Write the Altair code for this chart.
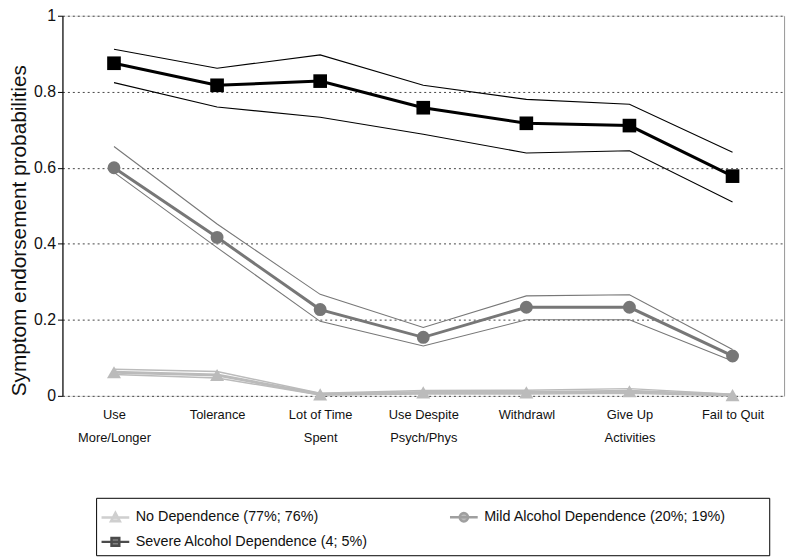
import math
import altair as alt
import pandas as pd

categories = ["Use|More/Longer", "Tolerance", "Lot of Time|Spent", "Use Despite|Psych/Phys",
              "Withdrawl", "Give Up|Activities", "Fail to Quit"]

series_names = ["No Dependence (77%; 76%)", "Mild Alcohol Dependence (20%; 19%)",
                "Severe Alcohol Dependence (4; 5%)"]

severe = [0.875, 0.817, 0.828, 0.758, 0.717, 0.711, 0.578]
severe_lo = [0.824, 0.760, 0.733, 0.688, 0.639, 0.645, 0.510]
severe_hi = [0.912, 0.862, 0.897, 0.817, 0.780, 0.767, 0.641]

mild = [0.600, 0.417, 0.227, 0.154, 0.233, 0.233, 0.105]
mild_lo = [0.588, 0.390, 0.196, 0.131, 0.200, 0.200, 0.092]
mild_hi = [0.656, 0.452, 0.267, 0.180, 0.263, 0.266, 0.122]

nodep = [0.062, 0.055, 0.004, 0.009, 0.009, 0.012, 0.002]
nodep_lo = [0.056, 0.047, 0.002, 0.005, 0.005, 0.007, 0.000]
nodep_hi = [0.070, 0.064, 0.007, 0.014, 0.015, 0.019, 0.004]

colors = ["#bbbbbb", "#777777", "#000000"]

poly = "".join(("M" if k == 0 else "L") + f"{0.3*math.cos(k*math.pi/8):.3f},{0.3*math.sin(k*math.pi/8):.3f}"
               for k in range(16)) + "Z"
legend_paths = [
    "M-1,0L1,0M-0.32,0.28L0,-0.32L0.32,0.28Z",
    "M-1,0L1,0" + poly,
    "M-1,0L1,0M-0.28,-0.28L0.28,-0.28L0.28,0.28L-0.28,0.28Z",
]

rows = []
for name, est, lo, hi in zip(series_names,
                             [nodep, mild, severe],
                             [nodep_lo, mild_lo, severe_lo],
                             [nodep_hi, mild_hi, severe_hi]):
    for c, e, l, h in zip(categories, est, lo, hi):
        rows.append({"category": c, "series": name, "est": e, "lo": l, "hi": h})
df = pd.DataFrame(rows)

FONT = "Liberation Sans"

x_enc = alt.X("category:N", sort=categories,
              scale=alt.Scale(type="point", padding=0.5),
              axis=alt.Axis(title=None, domain=False, ticks=False, grid=False,
                            labelAngle=0, labelPadding=13, labelFontSize=13,
                            labelFont=FONT, labelColor="#111",
                            labelLineHeight=23, labelBaseline="top",
                            labelExpr="split(datum.label, '|')"))

y_scale = alt.Scale(domain=[0, 1], nice=False, zero=True)
y_axis = alt.Axis(title="Symptom endorsement probabilities", values=[0, 0.2, 0.4, 0.6, 0.8, 1],
                  format="~g", labelFontSize=16, labelFont=FONT, labelColor="#111",
                  titleFontSize=21, titleFont=FONT, titleFontWeight="normal",
                  titleColor="#111", titleAnchor="start", titlePadding=4,
                  domainColor="#000", domainWidth=1.2, tickColor="#000", tickSize=5,
                  grid=True, gridColor="#444", gridDash=[2, 3], gridWidth=1)

base = alt.Chart(df)

shapes = ["triangle-up", "circle", "square"]
sizes = [200, 170, 190]
ci_widths = [1.5, 1.1, 1.1]
layers = []
for name, shp, sz, col, ciw in zip(series_names, shapes, sizes, colors, ci_widths):
    sub = base.transform_filter(alt.datum.series == name)
    for field, w in (("hi", ciw), ("lo", ciw), ("est", 3)):
        layers.append(sub.mark_line(strokeWidth=w, color=col).encode(
            x=x_enc, y=alt.Y(f"{field}:Q", scale=y_scale, axis=y_axis)))
    layers.append(sub.mark_point(filled=True, shape=shp, size=sz, color=col, opacity=1).encode(
        x=x_enc, y=alt.Y("est:Q", scale=y_scale, axis=y_axis)))

legend = alt.Legend(title="\u00a0", titleOrient="right", titlePadding=40,
                    orient="none", legendX=34, legendY=487, columns=2,
                    direction="horizontal", columnPadding=77, rowPadding=-6,
                    padding=4, strokeColor="#000", labelFont=FONT, labelFontSize=14.5,
                    labelColor="#111", labelLimit=400, symbolSize=784,
                    symbolStrokeWidth=2.5, labelOffset=5)

legend_layer = base.transform_filter("datum.series == 'none'").mark_point(
    filled=True, strokeWidth=2.5).encode(
    x=x_enc, y=alt.Y("est:Q", scale=y_scale, axis=y_axis),
    fill=alt.Fill("series:N", scale=alt.Scale(domain=series_names, range=colors), legend=legend),
    stroke=alt.Stroke("series:N", scale=alt.Scale(domain=series_names, range=colors), legend=legend),
    shape=alt.Shape("series:N", scale=alt.Scale(domain=series_names, range=legend_paths), legend=legend))

left = alt.layer(*layers, legend_layer)

right_frame = base.mark_line(strokeOpacity=0).encode(
    x=x_enc,
    y=alt.Y("est:Q", scale=y_scale,
            axis=alt.Axis(orient="right", title=None, labels=False, ticks=False,
                          grid=False, domainColor="#999", domainWidth=1)))

chart = alt.layer(left, right_frame).resolve_axis(y="independent").properties(
    width=729, height=384,
    autosize=alt.AutoSizeParams(type="none"),
    padding={"left": 55, "top": 5, "right": 8, "bottom": 162},
).configure_view(stroke=None).configure(background="white")

chart.save("out.html", embed_options={"renderer": "svg", "actions": False})
